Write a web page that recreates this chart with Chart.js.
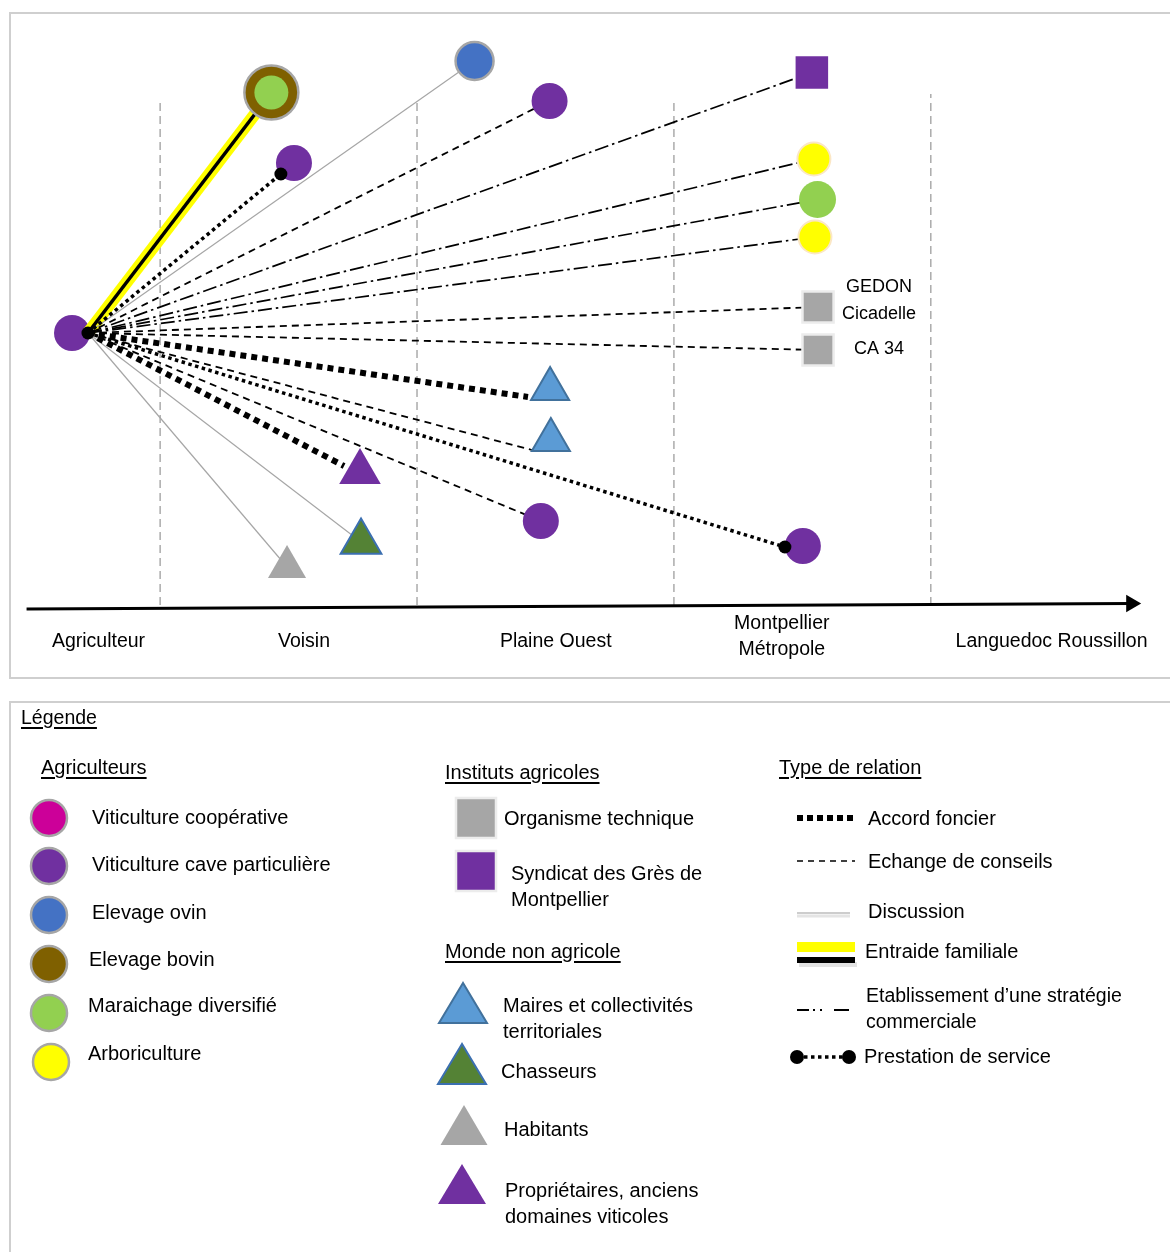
<!DOCTYPE html>
<html lang="fr">
<head>
<meta charset="utf-8">
<title>Réseau de l'agriculteur</title>
<script src="https://cdn.jsdelivr.net/npm/chart.js@4.4.1/dist/chart.umd.min.js"></script>
<style>
  body { margin: 0; width: 1170px; height: 1252px; position: relative; overflow: hidden; background: #fff;
         font-family: "Liberation Sans", Arial, sans-serif; color: #000; }
  #cadreReseau { position: absolute; left: 9px; top: 12px; width: 1175px; height: 667px; border: 2px solid #cfcfcf; box-sizing: border-box; }
  #cadreLegende { position: absolute; left: 9px; top: 701px; width: 1175px; height: 600px; border: 2px solid #cfcfcf; box-sizing: border-box; }
  #reseau { position: absolute; left: 0; top: 0; width: 1170px; height: 680px; }
  #icones { position: absolute; left: 0; top: 0; }
  .txt { position: absolute; font-size: 20px; line-height: 26px; white-space: nowrap; transform: translateY(-50%); }
  .souligne { text-decoration: underline; text-underline-offset: 3px; text-decoration-thickness: 1.5px; }
</style>
</head>
<body>
<div id="cadreReseau"></div>
<div id="cadreLegende"></div>
<canvas id="reseau" width="1170" height="680"></canvas>
<svg id="icones" width="1170" height="1252"></svg>
<div id="legende"></div>
<script>
// ---- données lues sur le schéma ----
// distance : 0-1 agriculteur, 1-2 voisin, 2-3 plaine ouest, 3-4 métropole, 4-5 région
const zones = ['Agriculteur', 'Voisin', 'Plaine Ouest', ['Montpellier', 'Métropole'], 'Languedoc Roussillon'];
const zonesPosition = [0.76, 1.56, 2.54, 3.42, 4.47];
const limitesZones = [1, 2, 3, 4];
const limitesHauteur = [50.5, 50.5, 50.7, 51.1];
const axeDistance = [0.48, 4.78];
const axeHauteur = [-0.4, 0.15];

// acteurs du réseau
const acteurType = ['cave', 'bovin', 'cave', 'ovin', 'cave', 'syndicat', 'arbo', 'maraichage', 'arbo', 'technique',
                    'technique', 'maires', 'maires', 'proprietaires', 'cave', 'cave', 'chasseurs', 'habitants'];
const acteurSecondaire = [null, 'maraichage', null, null, null, null, null, null, null, null,
                          null, null, null, null, null, null, null, null];
const acteurDistance = [0.657, 1.433, 1.521, 2.224, 2.516, 3.537, 3.545, 3.559, 3.549, 3.561,
                        3.561, 2.518, 2.521, 1.778, 2.482, 3.502, 1.782, 1.494];
const acteurHauteur = [27.2, 51.25, 44.2, 54.4, 50.4, 53.25, 44.6, 40.55, 36.8, 29.8,
                       25.5, 21.6, 16.5, 13.3, 8.4, 5.9, 6.3, 3.8];
const acteurNom = [null, null, null, null, null, null, null, null, null, ['GEDON', 'Cicadelle'],
                   ['CA 34'], null, null, null, null, null, null, null];

// liens partant de l'agriculteur enquêté
const departDistance = 0.719;
const departHauteur = 27.2;
const lienCible = [1, 2, 3, 4, 5, 6, 7, 8, 9, 10, 11, 12, 13, 14, 15, 16, 17];
const lienType = ['entraide', 'prestation', 'discussion', 'conseils', 'strategie', 'strategie', 'strategie', 'strategie',
                  'conseils', 'conseils', 'accord', 'conseils', 'accord', 'conseils', 'prestation', 'discussion', 'discussion'];
// arrivée du lien quand il ne va pas au centre du symbole
const lienArriveeDistance = [null, 1.470, null, null, null, null, null, null, null, null, 2.432, 2.447, 1.716, null, 3.432, null, null];
const lienArriveeHauteur  = [null, 43.1, null, null, null, null, null, null, null, null, 20.8, 15.5, 13.9, null, 5.8, null, null];

// légende
const agriculteurs = ['Viticulture coopérative', 'Viticulture cave particulière', 'Elevage ovin', 'Elevage bovin', 'Maraichage diversifié', 'Arboriculture'];
const instituts = ['Organisme technique', ['Syndicat des Grès de', 'Montpellier']];
const mondeNonAgricole = [['Maires et collectivités', 'territoriales'], 'Chasseurs', 'Habitants', ['Propriétaires, anciens', 'domaines viticoles']];
const relations = ['Accord foncier', 'Echange de conseils', 'Discussion', 'Entraide familiale', ['Etablissement d\u2019une stratégie', 'commerciale'], 'Prestation de service'];

// ---- styles ----
const couleursAgriculteurs = ['#cc0099', '#7030a0', '#4472c4', '#7f6000', '#92d050', '#ffff00'];

const styleActeur = {
  cave:          { forme: 'circle',   rayon: 18,   fond: '#7030a0', bord: '#7030a0', epaisseur: 0 },
  bovin:         { forme: 'circle',   rayon: 27,   fond: '#7f6000', bord: '#a6a6a6', epaisseur: 2.5 },
  ovin:          { forme: 'circle',   rayon: 19,   fond: '#4472c4', bord: '#a6a6a6', epaisseur: 2.5 },
  maraichage:    { forme: 'circle',   rayon: 18.5, fond: '#92d050', bord: '#92d050', epaisseur: 0 },
  arbo:          { forme: 'circle',   rayon: 16.5, fond: '#ffff00', bord: '#fbe7c6', epaisseur: 2 },
  syndicat:      { forme: 'rect',     rayon: 23,   fond: '#7030a0', bord: '#7030a0', epaisseur: 0 },
  technique:     { forme: 'rect',     rayon: 22,   fond: '#a6a6a6', bord: '#ececec', epaisseur: 2.5 },
  maires:        { forme: 'triangle', rayon: 22,   fond: '#5b9bd5', bord: '#41719c', epaisseur: 2 },
  chasseurs:     { forme: 'triangle', rayon: 23.5, fond: '#548235', bord: '#3b6fb0', epaisseur: 2 },
  habitants:     { forme: 'triangle', rayon: 22,   fond: '#a6a6a6', bord: '#a6a6a6', epaisseur: 0 },
  proprietaires: { forme: 'triangle', rayon: 24,   fond: '#7030a0', bord: '#7030a0', epaisseur: 0 }
};

const styleLien = {
  accord:     { couleur: '#000', largeur: 6,   tirets: [6, 5] },
  conseils:   { couleur: '#000', largeur: 1.8, tirets: [7, 5] },
  discussion: { couleur: '#a6a6a6', largeur: 1.2, tirets: [] },
  entraide:   { couleur: '#000', largeur: 3.5, tirets: [] },
  strategie:  { couleur: '#000', largeur: 1.7, tirets: [14, 4, 2.5, 4] },
  prestation: { couleur: '#000', largeur: 3.5, tirets: [3.5, 3.5] }
};

function point(i) {
  return { x: acteurDistance[i], y: acteurHauteur[i] };
}

function construireDonnees() {
  const ds = [];

  // axe horizontal avec flèche
  ds.push({
    data: axeDistance.map((d, i) => ({ x: d, y: axeHauteur[i] })),
    showLine: true, borderColor: '#000', borderWidth: 3,
    pointRadius: [0, 10], pointStyle: 'triangle', pointRotation: 90,
    pointBackgroundColor: '#000', pointBorderWidth: 0, order: 50
  });

  // limites des zones
  limitesZones.forEach((l, i) => {
    ds.push({
      data: [{ x: l, y: 0 }, { x: l, y: limitesHauteur[i] }],
      showLine: true, borderColor: '#ababab', borderWidth: 1.5, borderDash: [8, 5],
      pointRadius: 0, order: 50
    });
  });

  // agriculteur enquêté (dessous des liens)
  const s0 = styleActeur[acteurType[0]];
  ds.push({ data: [point(0)], pointStyle: s0.forme, pointRadius: s0.rayon, pointBackgroundColor: s0.fond,
            pointBorderColor: s0.bord, pointBorderWidth: s0.epaisseur, order: 40 });

  // liens
  const depart = { x: departDistance, y: departHauteur };
  lienCible.forEach((c, i) => {
    const arrivee = lienArriveeDistance[i] !== null ? { x: lienArriveeDistance[i], y: lienArriveeHauteur[i] } : point(c);
    const st = styleLien[lienType[i]];
    if (lienType[i] === 'entraide') {
      ds.push({ data: [depart, arrivee], showLine: true, borderColor: '#ffff00', borderWidth: 12, pointRadius: 0, order: 21 });
    }
    ds.push({ data: [depart, arrivee], showLine: true, borderColor: st.couleur, borderWidth: st.largeur,
              borderDash: st.tirets, pointRadius: 0, order: 20 });
  });

  // acteurs par type
  Object.keys(styleActeur).forEach(type => {
    const idx = acteurType.map((t, i) => (t === type && i > 0 ? i : -1)).filter(i => i >= 0);
    if (!idx.length) return;
    const st = styleActeur[type];
    ds.push({ data: idx.map(point), pointStyle: st.forme, pointRadius: st.rayon, pointBackgroundColor: st.fond,
              pointBorderColor: st.bord, pointBorderWidth: st.epaisseur, order: 10 });
  });

  // activité secondaire (cercle intérieur)
  const idx2 = acteurSecondaire.map((t, i) => (t ? i : -1)).filter(i => i >= 0);
  ds.push({ data: idx2.map(point), pointStyle: 'circle', pointRadius: 17,
            pointBackgroundColor: idx2.map(i => styleActeur[acteurSecondaire[i]].fond), pointBorderWidth: 0, order: 9 });

  // points noirs : départ et fins des prestations de service
  const pts = [depart];
  lienType.forEach((t, i) => {
    if (t === 'prestation') pts.push({ x: lienArriveeDistance[i], y: lienArriveeHauteur[i] });
  });
  ds.push({ data: pts, pointStyle: 'circle', pointRadius: 6.5, pointBackgroundColor: '#000', pointBorderWidth: 0, order: 1 });

  return ds;
}

// textes du schéma (zones et noms d'acteurs)
const etiquettes = {
  id: 'etiquettes',
  afterDatasetsDraw(chart) {
    const { ctx, scales: { x, y } } = chart;
    ctx.save();
    ctx.fillStyle = '#000';
    ctx.textAlign = 'center';
    ctx.textBaseline = 'middle';
    ctx.font = '19.5px "Liberation Sans", Arial, sans-serif';
    zones.forEach((z, i) => {
      const lignes = [].concat(z);
      const px = x.getPixelForValue(zonesPosition[i]);
      const py = y.getPixelForValue(lignes.length > 1 ? -3.1 : -3.6) + 1;
      lignes.forEach((l, k) => ctx.fillText(l, px, py + (k - (lignes.length - 1) / 2) * 26));
    });
    ctx.font = '18px "Liberation Sans", Arial, sans-serif';
    acteurNom.forEach((nom, i) => {
      if (!nom) return;
      const px = x.getPixelForValue(acteurDistance[i]) + 61;
      const py = y.getPixelForValue(acteurHauteur[i]) - (nom.length > 1 ? 6 : 1);
      nom.forEach((l, k) => ctx.fillText(l, px, py + (k - (nom.length - 1) / 2) * 27));
    });
    ctx.restore();
  }
};

function creerReseau() {
  const ctx = document.getElementById('reseau').getContext('2d');
  new Chart(ctx, {
    type: 'scatter',
    data: { datasets: construireDonnees() },
    options: {
      responsive: false,
      animation: false,
      events: [],
      layout: { autoPadding: false, padding: { left: 6, right: 8, top: 15, bottom: 5 } },
      scales: {
        x: { type: 'linear', min: 0.4, max: 4.9, display: false },
        y: { type: 'linear', min: -7, max: 59, display: false }
      },
      plugins: { legend: { display: false }, tooltip: { enabled: false } }
    },
    plugins: [etiquettes]
  });
}

// ---- légende (HTML + SVG) ----
function texte(x, y, s, classe, taille) {
  const leg = document.getElementById('legende');
  [].concat(s).forEach((l, k) => {
    const d = document.createElement('div');
    d.className = 'txt ' + (classe || '');
    d.style.left = x + 'px';
    d.style.top = (y + k * 26) + 'px';
    if (taille) d.style.fontSize = taille + 'px';
    d.textContent = l;
    leg.appendChild(d);
  });
}

function creerLegende() {
  const svg = document.getElementById('icones');
  let html = '';

  texte(21, 717, 'Légende', 'souligne', 19.5);

  // agriculteurs
  texte(41, 767, 'Agriculteurs', 'souligne');
  const agriY = [818, 866, 915, 964, 1013, 1062];
  const agriTexte = [[92, 817], [92, 864], [92, 912], [89, 959], [88, 1005], [88, 1053]];
  agriculteurs.forEach((a, i) => {
    html += `<circle cx="${i === 5 ? 51 : 49}" cy="${agriY[i]}" r="18" fill="${couleursAgriculteurs[i]}" stroke="#a6a6a6" stroke-width="2.5"/>`;
    texte(agriTexte[i][0], agriTexte[i][1], a);
  });

  // instituts agricoles
  texte(445, 772, 'Instituts agricoles', 'souligne');
  html += `<rect x="456" y="798" width="40" height="40" fill="#a6a6a6" stroke="#ececec" stroke-width="2.5"/>`;
  html += `<rect x="456" y="851" width="40" height="40" fill="#7030a0" stroke="#ececec" stroke-width="2.5"/>`;
  texte(504, 818, instituts[0]);
  texte(511, 873, instituts[1]);

  // monde non agricole
  texte(445, 951, 'Monde non agricole', 'souligne');
  const tri = [
    [463, 983, 1023, 24, '#5b9bd5', '#41719c', 2],
    [462, 1044, 1084, 24, '#548235', '#3b6fb0', 2],
    [464, 1105, 1145, 23.5, '#a6a6a6', 'none', 0],
    [462, 1164, 1204, 24, '#7030a0', 'none', 0]
  ];
  tri.forEach(t => {
    html += `<polygon points="${t[0]},${t[1]} ${t[0] - t[3]},${t[2]} ${t[0] + t[3]},${t[2]}" fill="${t[4]}" stroke="${t[5]}" stroke-width="${t[6]}"/>`;
  });
  const mnaTexte = [[503, 1005], [501, 1071], [504, 1129], [505, 1190]];
  mondeNonAgricole.forEach((m, i) => texte(mnaTexte[i][0], mnaTexte[i][1], m));

  // types de relation
  texte(779, 767, 'Type de relation', 'souligne');
  html += `<line x1="797" y1="818" x2="857" y2="818" stroke="#000" stroke-width="6" stroke-dasharray="6 4"/>`;
  html += `<line x1="797" y1="861" x2="855" y2="861" stroke="#000" stroke-width="1.5" stroke-dasharray="6 5"/>`;
  html += `<line x1="797" y1="916" x2="850" y2="916" stroke="#e4e4e4" stroke-width="3"/>`;
  html += `<line x1="797" y1="913" x2="850" y2="913" stroke="#bdbdbd" stroke-width="1.3"/>`;
  html += `<rect x="799" y="962" width="58" height="5" fill="#d0d0d0" opacity="0.6"/>`;
  html += `<rect x="797" y="942" width="58" height="10" fill="#ffff00"/>`;
  html += `<rect x="797" y="957" width="58" height="6" fill="#000"/>`;
  html += `<line x1="797" y1="1010" x2="809" y2="1010" stroke="#000" stroke-width="2"/>`;
  html += `<line x1="813" y1="1010" x2="815" y2="1010" stroke="#000" stroke-width="2"/>`;
  html += `<line x1="820" y1="1010" x2="822" y2="1010" stroke="#000" stroke-width="2"/>`;
  html += `<line x1="834" y1="1010" x2="849" y2="1010" stroke="#000" stroke-width="2"/>`;
  html += `<line x1="797" y1="1057" x2="849" y2="1057" stroke="#000" stroke-width="3.5" stroke-dasharray="3.5 3.5"/>`;
  html += `<circle cx="797" cy="1057" r="7" fill="#000"/><circle cx="849" cy="1057" r="7" fill="#000"/>`;
  const relTexte = [[868, 818], [868, 861], [868, 911], [865, 951], [866, 995], [864, 1056]];
  relations.forEach((r, i) => texte(relTexte[i][0], relTexte[i][1], r, '', i === 4 ? 19.5 : 20));

  svg.innerHTML = html;
}

document.addEventListener('DOMContentLoaded', () => {
  creerReseau();
  creerLegende();
});
</script>
</body>
</html>
